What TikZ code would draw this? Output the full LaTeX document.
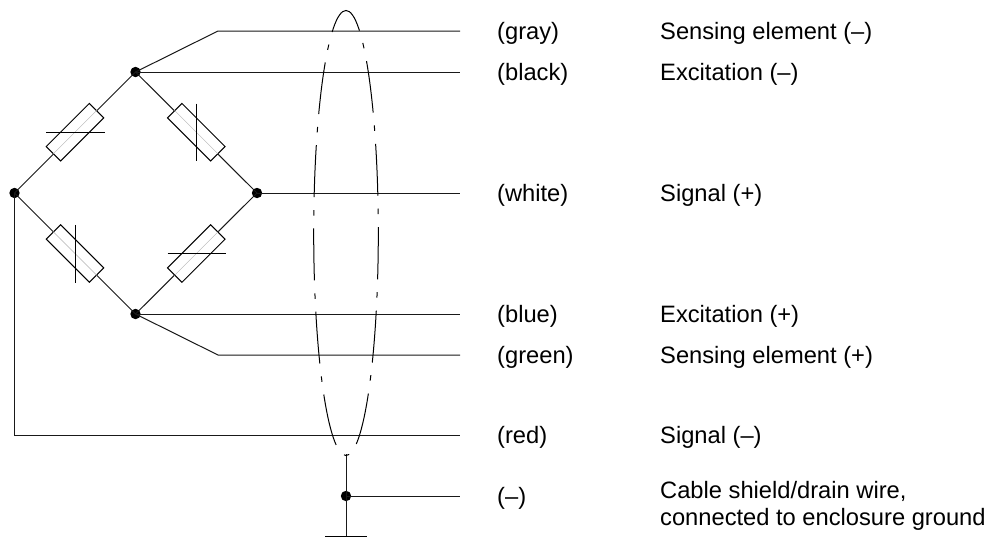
\documentclass[tikz,border=0pt]{standalone}
\usepackage{fontspec}
\setmainfont{Liberation Sans}
\tikzset{
  x=1pt,y=-1pt,
  wire/.style={line width=1pt,black!90},
  dotn/.style={circle,fill=black,inner sep=0pt,minimum size=10.4pt},
  resbox/.style={draw=black,line width=1pt,fill=white,minimum width=61pt,minimum height=20.4pt,inner sep=0pt},
  axisl/.style={line width=0.4pt,black!30},
  crossl/.style={line width=1pt,black},
  shield/.style={line width=1pt,black,dash pattern=on 52pt off 13pt on 5.5pt off 12.77pt,dash phase=46pt},
  lbl/.style={anchor=base west,inner sep=0pt,font=\fontsize{23.7pt}{27pt}\selectfont,align=left},
}
\begin{document}
\begin{tikzpicture}
\useasboundingbox (0,0) rectangle (992,544);
\fill[white] (0,0) rectangle (992,544);
% junctions
\node[dotn] (T) at (135.5,72) {};
\node[dotn] (L) at (14.5,193) {};
\node[dotn] (R) at (257,193) {};
\node[dotn] (B) at (135.5,314) {};
\node[dotn] (G) at (346,496) {};
% free ends
\coordinate (k1) at (218,31);
\coordinate (e1) at (460,31);
\coordinate (e2) at (460,72);
\coordinate (e3) at (460,193);
\coordinate (e4) at (460,314);
\coordinate (k5) at (218,355);
\coordinate (e5) at (460,355);
\coordinate (k6) at (14.5,435);
\coordinate (e6) at (460,435);
\coordinate (e7) at (460,496);
\coordinate (s0) at (346,454);
\coordinate (s1) at (346,536);
\coordinate (g1) at (325,536);
\coordinate (g2) at (367,536);
% bridge arms
\draw[wire] (T.center) -- (L.center) -- (B.center) -- (R.center) -- (T.center) -- cycle;
% wires
\draw[wire] (T.center) -- (k1) -- (e1);
\draw[wire] (T.center) -- (e2);
\draw[wire] (R.center) -- (e3);
\draw[wire] (B.center) -- (e4);
\draw[wire] (B.center) -- (k5) -- (e5);
\draw[wire] (L.center) -- (k6) -- (e6);
\draw[wire] (G.center) -- (e7);
\draw[wire] (s0) -- (s1);
\draw[crossl] (g1) -- (g2);
% resistors
\node[resbox,rotate=45] (r1) at (75,132.2) {};
\node[resbox,rotate=-45] (r2) at (196.3,132.2) {};
\node[resbox,rotate=-45] (r3) at (75,253.5) {};
\node[resbox,rotate=45] (r4) at (196.3,253.5) {};
\draw[axisl] (r1.west) -- (r1.east);
\draw[axisl] (r2.west) -- (r2.east);
\draw[axisl] (r3.west) -- (r3.east);
\draw[axisl] (r4.west) -- (r4.east);
\draw[crossl] (46,132) -- (104.5,132);
\draw[crossl] (196.7,103.5) -- (196.7,160.5);
\draw[crossl] (75.3,224.8) -- (75.3,282.5);
\draw[crossl] (167.5,253.7) -- (225.7,253.7);
% shield ellipse
\draw[shield] (378.3,233) arc[start angle=0,end angle=360,x radius=32.3pt,y radius=222.5pt];
% labels
\node[lbl] (a1) at (497,39) {(gray)};
\node[lbl] (a2) at (497,80) {(black)};
\node[lbl] (a3) at (497,201) {(white)};
\node[lbl] (a4) at (497,322) {(blue)};
\node[lbl] (a5) at (497,363) {(green)};
\node[lbl] (a6) at (497,443) {(red)};
\node[lbl] (a7) at (497,504) {(–)};
\node[lbl] (b1) at (660,39) {Sensing element (–)};
\node[lbl] (b2) at (660,80) {Excitation (–)};
\node[lbl] (b3) at (660,201) {Signal (+)};
\node[lbl] (b4) at (660,322) {Excitation (+)};
\node[lbl] (b5) at (660,363) {Sensing element (+)};
\node[lbl] (b6) at (660,443) {Signal (–)};
\node[lbl] (b7) at (660,498) {Cable shield/drain wire,};
\node[lbl] (b8) at (660,525) {connected to enclosure ground};
\end{tikzpicture}
\end{document}
